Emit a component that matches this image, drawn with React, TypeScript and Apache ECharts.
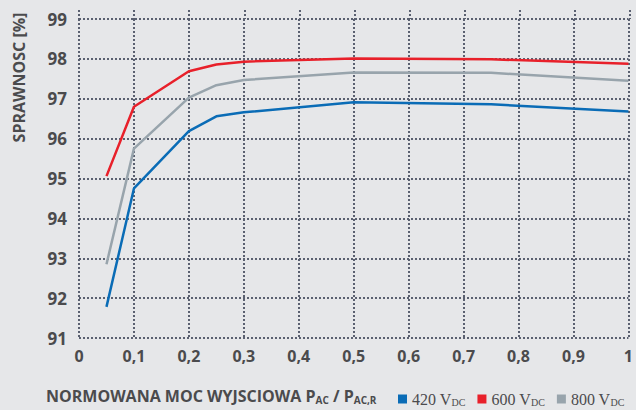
import React, { useEffect, useRef } from "react";
import * as echarts from "echarts";

const loads = [0.05, 0.1, 0.2, 0.25, 0.3, 0.5, 0.75, 1.0];
const eff420 = [91.78, 94.75, 96.19, 96.56, 96.66, 96.91, 96.86, 96.68];
const eff600 = [95.06, 96.8, 97.69, 97.86, 97.93, 98.01, 97.99, 97.88];
const eff800 = [92.85, 95.75, 97.03, 97.34, 97.47, 97.66, 97.65, 97.45];
const seriesNames = ["420 V", "600 V", "800 V"];
const xTicks = [0, 0.1, 0.2, 0.3, 0.4, 0.5, 0.6, 0.7, 0.8, 0.9, 1];
const yTicks = [91, 92, 93, 94, 95, 96, 97, 98, 99];

const TEXT = "#4b4b4d";
const FONT = "'Open Sans', 'Noto Sans', sans-serif";
const SERIF = "'Liberation Serif', 'DejaVu Serif', serif";

export default function App() {
  const ref = useRef<HTMLDivElement>(null);
  useEffect(() => {
    if (!ref.current) return;
    const chart = echarts.init(ref.current, undefined, { renderer: "svg" });
    const pair = (ys: number[]) => loads.map((x, i) => [x, ys[i]]);
    chart.setOption({
      animation: false,
      backgroundColor: "#e6e7e9",
      title: {
        left: 46,
        top: 387,
        padding: 0,
        text: "{m|NORMOWANA MOC WYJSCIOWA P}{s|AC}{m| / P}{s|AC,R}",
        textStyle: {
          rich: {
            m: { fontSize: 16, fontWeight: "bold", fontFamily: FONT, color: TEXT },
            s: { fontSize: 10, fontWeight: "bold", fontFamily: FONT, color: TEXT, padding: [8, 0, 0, 0] },
          },
        },
      },
      grid: [
        { left: 79, right: 6, top: 19, bottom: 72 },
        { left: 79, right: 6, top: 10, bottom: 265 },
        { left: 79, right: 6, top: 10, height: 9 },
      ],
      xAxis: [
        {
          type: "value",
          gridIndex: 0,
          min: xTicks[0],
          max: xTicks[xTicks.length - 1],
          interval: 0.1,
          axisLine: { show: false },
          axisTick: { show: false },
          splitLine: { show: true, lineStyle: { color: "#5a6070", width: 2, type: "dotted" } },
          axisLabel: {
            color: TEXT,
            fontFamily: FONT,
            fontWeight: "bold",
            fontSize: 16,
            margin: 10,
            formatter: (v: number) => (Math.round(v * 10) / 10).toString().replace(".", ","),
          },
        },
        { type: "value", gridIndex: 1, show: false, splitLine: { show: false } },
        {
          type: "value",
          gridIndex: 2,
          min: xTicks[0],
          max: xTicks[xTicks.length - 1],
          interval: 0.1,
          axisLine: { show: false },
          axisTick: { show: false },
          axisLabel: { show: false },
          splitLine: { show: true, lineStyle: { color: "#5a6070", width: 2, type: "dotted" } },
        },
      ],
      yAxis: [
        {
          type: "value",
          gridIndex: 0,
          min: yTicks[0],
          max: yTicks[yTicks.length - 1],
          interval: 1,
          axisLine: { show: false },
          axisTick: { show: false },
          splitLine: { show: true, lineStyle: { color: "#5a6070", width: 2, type: "dotted" } },
          axisLabel: {
            color: TEXT,
            fontFamily: FONT,
            fontWeight: "bold",
            fontSize: 17,
            margin: 12,
          },
        },
        {
          type: "value",
          gridIndex: 1,
          axisLine: { show: false },
          axisTick: { show: false },
          axisLabel: { show: false },
          splitLine: { show: false },
          name: "SPRAWNOSC [%]",
          nameLocation: "middle",
          nameRotate: 90,
          nameGap: 52,
          nameTextStyle: { color: TEXT, fontSize: 16, fontWeight: "bold", fontFamily: FONT },
        },
        {
          type: "value",
          gridIndex: 2,
          axisLine: { show: false },
          axisTick: { show: false },
          axisLabel: { show: false },
          splitLine: { show: false },
        },
      ],
      legend: {
        left: 398,
        top: 391,
        width: 300,
        padding: 0,
        icon: "rect",
        itemWidth: 9,
        itemHeight: 9,
        itemGap: 12,
        data: seriesNames,
        formatter: (n: string) => `{v|${n}}{s|DC}`,
        textStyle: {
          color: TEXT,
          rich: {
            v: { fontFamily: SERIF, fontSize: 16, color: TEXT },
            s: { fontFamily: SERIF, fontSize: 10, color: TEXT, padding: [6, 0, 0, 0] },
          },
        },
      },
      series: [
        { name: seriesNames[0], type: "line", data: pair(eff420), color: "#0a6cb6", showSymbol: false, lineStyle: { width: 2.5 } },
        { name: seriesNames[1], type: "line", data: pair(eff600), color: "#e8202a", showSymbol: false, lineStyle: { width: 2.5 } },
        { name: seriesNames[2], type: "line", data: pair(eff800), color: "#98a4ac", showSymbol: false, lineStyle: { width: 2.5 } },
      ],
    });
    return () => chart.dispose();
  }, []);
  return <div ref={ref} style={{ width: 636, height: 410, position: "absolute", left: 0, top: 0 }} />;
}
